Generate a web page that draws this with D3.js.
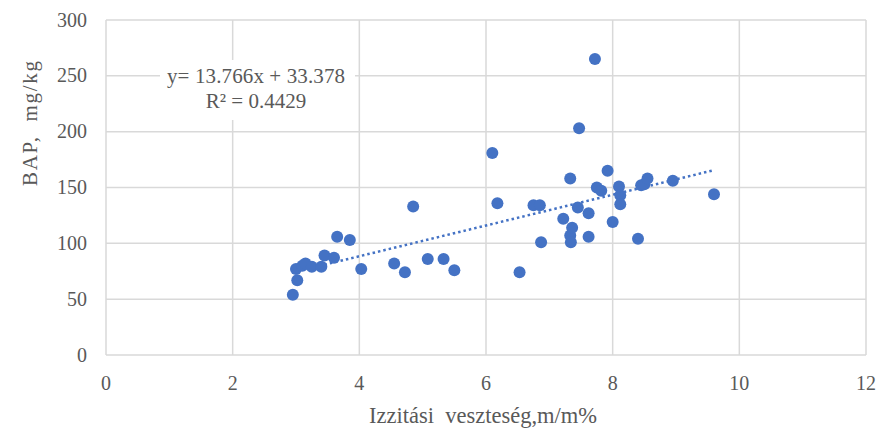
<!DOCTYPE html>
<html><head><meta charset="utf-8">
<script src="https://cdn.jsdelivr.net/npm/d3@7"></script>
<style>body{margin:0;background:#fff}svg{display:block}</style>
</head><body><svg id="c" width="889" height="431"></svg>
<script>
const xVals=[2.95,3.02,3.0,3.1,3.15,3.25,3.4,3.45,3.6,3.65,3.85,4.03,4.55,4.72,4.85,5.08,5.33,5.5,6.1,6.18,6.53,6.75,6.85,6.87,7.22,7.33,7.33,7.36,7.34,7.45,7.47,7.62,7.62,7.72,7.75,7.82,7.92,8.0,8.1,8.12,8.12,8.4,8.45,8.5,8.55,8.95,9.6];
const yVals=[54,67,77,80,82,79,79,89,87,106,103,77,82,74,133,86,86,76,181,136,74,134,134,101,122,158,107,114,101,132,203,127,106,265,150,147,165,119,151,143,135,104,152,153,158,156,144];
const xTicks=[0,2,4,6,8,10,12];
const yTicks=[0,50,100,150,200,250,300];
const slope=13.766, intercept=33.378;
const trendRange=[3.45,9.6];
const eqLines=["y= 13.766x + 33.378","R² = 0.4429"];
const xTitle="Izzitási  veszteség,m/m%";
const yTitle="BAP,  mg/kg";

const svg=d3.select("#c");
const L=106,R=866,T=20,B=355;
const x=d3.scaleLinear().domain([0,12]).range([L,R]);
const y=d3.scaleLinear().domain([0,300]).range([B,T]);
const font="'Liberation Serif','Times New Roman',serif";
const grey="#595959";

const g=svg.append("g");
g.selectAll(".hg").data(yTicks).join("line").attr("x1",L).attr("x2",R)
 .attr("y1",d=>y(d)).attr("y2",d=>y(d)).attr("stroke","#d9d9d9").attr("stroke-width",1.5);
g.selectAll(".vg").data(xTicks).join("line").attr("y1",T).attr("y2",B)
 .attr("x1",d=>x(d)).attr("x2",d=>x(d)).attr("stroke","#d9d9d9").attr("stroke-width",1.5);

g.selectAll(".yt").data(yTicks).join("text").attr("x",L-19).attr("y",d=>y(d)).attr("dy","0.33em")
 .attr("text-anchor","end").attr("font-family",font).attr("font-size",20).attr("fill",grey).text(d=>d);
g.selectAll(".xt").data(xTicks).join("text").attr("x",d=>x(d)).attr("y",B+35)
 .attr("text-anchor","middle").attr("font-family",font).attr("font-size",20).attr("fill",grey).text(d=>d);

// trend line
g.append("line").attr("x1",x(trendRange[0])).attr("y1",y(slope*trendRange[0]+intercept))
 .attr("x2",x(trendRange[1])).attr("y2",y(slope*trendRange[1]+intercept))
 .attr("stroke","#4472C4").attr("stroke-width",2.5).attr("stroke-dasharray","2.5,3");

g.selectAll(".pt").data(xVals.map((v,i)=>[v,yVals[i]])).join("circle")
 .attr("cx",d=>x(d[0])).attr("cy",d=>y(d[1])).attr("r",6).attr("fill","#4472C4");

// equation label with white background
const lx=256;
g.append("rect").attr("x",160).attr("y",60).attr("width",195).attr("height",60).attr("fill","#fff");
g.selectAll(".eq").data(eqLines).join("text").attr("x",lx).attr("y",(d,i)=>83+i*25)
 .attr("text-anchor","middle").attr("font-family",font).attr("font-size",21).attr("fill",grey)
 .attr("textLength",(d,i)=>i===0?178:null).text(d=>d);

svg.append("text").attr("x",483).attr("y",423).attr("text-anchor","middle")
 .attr("font-family",font).attr("font-size",22.5).attr("fill",grey).style("white-space","pre").text(xTitle);
svg.append("text").attr("transform",`translate(37,186) rotate(-90)`).attr("text-anchor","start")
 .attr("font-family",font).attr("font-size",21).attr("textLength",125).attr("lengthAdjust","spacing")
 .attr("fill",grey).style("white-space","pre").text(yTitle);
</script></body></html>
